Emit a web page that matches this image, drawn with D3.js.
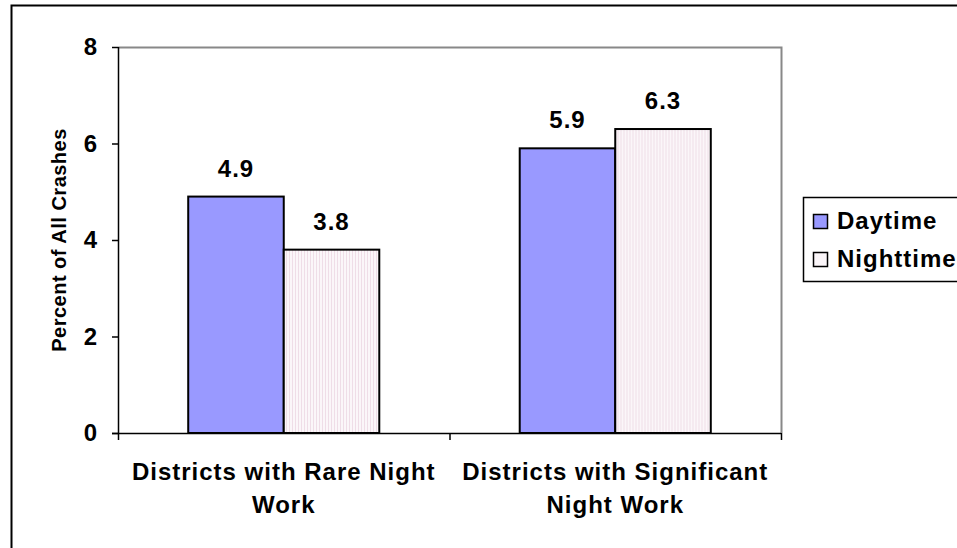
<!DOCTYPE html>
<html><head><meta charset="utf-8">
<script src="https://cdn.jsdelivr.net/npm/d3@7"></script>
<style>body{margin:0;background:#fff}svg{display:block}text{font-family:"Liberation Sans",Arial,sans-serif;font-weight:bold}</style>
</head><body>
<svg id="c" width="957" height="548"></svg>
<script>
const categories = [["Districts with Rare Night", "Work"], ["Districts with Significant", "Night Work"]];
const seriesNames = ["Daytime", "Nighttime"];
const daytime = [4.9, 5.9];
const nighttime = [3.8, 6.3];
const yTicks = [0, 2, 4, 6, 8];

const svg = d3.select("#c");
const defs = svg.append("defs");
const pat = defs.append("pattern").attr("id","stripe").attr("patternUnits","userSpaceOnUse").attr("width",3).attr("height",4);
pat.append("rect").attr("width",3).attr("height",4).attr("fill","#fbf6f9");
pat.append("rect").attr("width",1).attr("height",4).attr("fill","#efdde7");

// outer border
svg.append("rect").attr("x",11.5).attr("y",5.5).attr("width",1000).attr("height",1000).attr("fill","none").attr("stroke","#000").attr("stroke-width",2);

const L=118, R=781, T=47, B=433;
const x = d3.scaleBand().domain(d3.range(categories.length)).range([L,R]);
const sub = d3.scaleBand().domain(seriesNames).range([0,x.bandwidth()]).paddingOuter(0.735).paddingInner(0);
const y = d3.scaleLinear().domain([0,8]).range([B,T]);

// plot area top/right border
svg.append("path").attr("d",`M${L},${T+0.5}H${R+0.5}V${B}`).attr("fill","none").attr("stroke","#888").attr("stroke-width",2);

const data = categories.map((c,i)=>({i, vals:[{s:"Daytime",v:daytime[i]},{s:"Nighttime",v:nighttime[i]}]}));
const g = svg.append("g").selectAll("g").data(data).join("g").attr("transform",d=>`translate(${x(d.i)},0)`);
g.selectAll("rect").data(d=>d.vals).join("rect")
 .attr("x",d=>sub(d.s)).attr("width",sub.bandwidth())
 .attr("y",d=>y(d.v)).attr("height",d=>B-y(d.v))
 .attr("fill",d=>d.s==="Daytime"?"#9999ff":"url(#stripe)")
 .attr("stroke","#000").attr("stroke-width",2);
g.selectAll("text.v").data(d=>d.vals).join("text").attr("class","v")
 .attr("x",d=>sub(d.s)+sub.bandwidth()/2).attr("y",d=>y(d.v)-20)
 .attr("text-anchor","middle").attr("font-size",24).attr("letter-spacing",1).text(d=>d.v.toFixed(1));

// y axis
const ya = svg.append("g").attr("transform",`translate(${L},0)`)
 .call(d3.axisLeft(y).tickValues(yTicks).tickSize(6).tickPadding(15).tickFormat(d3.format("d")));
ya.select(".domain").attr("stroke","#000").attr("stroke-width",1.5).attr("d",`M0.5,${T}V${B}`);
ya.selectAll("line").attr("stroke","#000").attr("stroke-width",1.5);
ya.selectAll("text").attr("font-size",24).attr("font-family","Liberation Sans, Arial, sans-serif").attr("font-weight","bold").attr("fill","#000");

// x axis
svg.append("line").attr("x1",L-6).attr("x2",R).attr("y1",B+0.5).attr("y2",B+0.5).attr("stroke","#000").attr("stroke-width",1.5);
const xt = d3.range(categories.length+1).map(i=> i<categories.length ? x(i) : x(i-1)+x.bandwidth());
svg.selectAll("line.xt").data(xt).join("line").attr("class","xt")
 .attr("x1",d=>d+0.5).attr("x2",d=>d+0.5).attr("y1",B).attr("y2",B+7).attr("stroke","#000").attr("stroke-width",1.5);
const cl = svg.selectAll("text.cat").data(categories).join("text").attr("class","cat")
 .attr("text-anchor","middle").attr("font-size",24).attr("letter-spacing",1);
cl.selectAll("tspan").data((d,i)=>d.map(t=>({t,i}))).join("tspan")
 .attr("x",d=>x(d.i)+x.bandwidth()/2).attr("y",(d,j)=>480+j*33).text(d=>d.t);

// y title
svg.append("text").attr("transform",`translate(66,${(T+B)/2}) rotate(-90)`).attr("text-anchor","middle").attr("font-size",20).attr("letter-spacing",0.5).text("Percent of All Crashes");

// legend
svg.append("rect").attr("x",803.5).attr("y",197.5).attr("width",200).attr("height",84).attr("fill","#fff").attr("stroke","#000").attr("stroke-width",1.5);
const lg = svg.selectAll("g.lg").data(seriesNames).join("g").attr("class","lg").attr("transform",(d,i)=>`translate(813,${229+i*38})`);
lg.append("rect").attr("x",0.5).attr("y",-14.5).attr("width",14).attr("height",14)
 .attr("fill",d=>d==="Daytime"?"#9999ff":"#fbf6f9").attr("stroke","#000").attr("stroke-width",1.5);
lg.append("text").attr("x",24).attr("y",0).attr("font-size",24).attr("letter-spacing",1).text(d=>d);
</script>
</body></html>
